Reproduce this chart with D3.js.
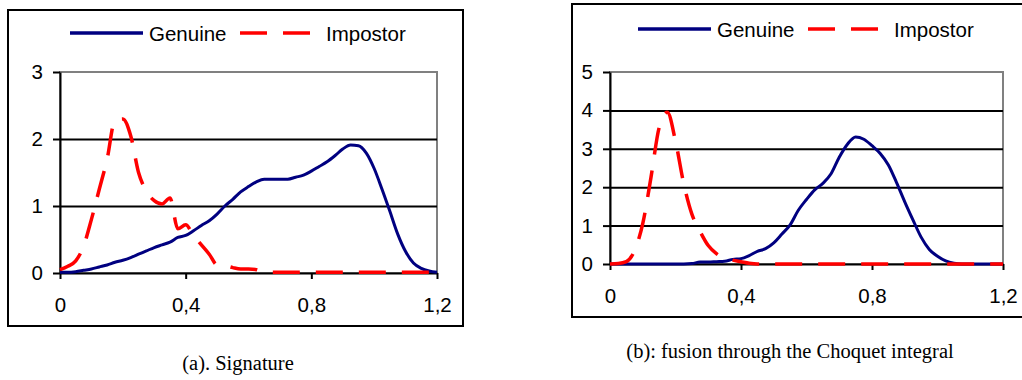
<!DOCTYPE html>
<html>
<head>
<meta charset="utf-8">
<script src="https://cdn.jsdelivr.net/npm/d3@7"></script>
<style>
  body { margin: 0; background: #fff; }
  svg { display: block; }
</style>
</head>
<body>
<div id="chart"></div>
<script>
// x grid shared by all series (score)
const scores = [
  0, 0.025, 0.05, 0.075, 0.1, 0.125, 0.15, 0.175, 0.2, 0.225, 0.25, 0.275,
  0.3, 0.325, 0.35, 0.375, 0.4, 0.425, 0.45, 0.475, 0.5, 0.525, 0.55, 0.575,
  0.6, 0.625, 0.65, 0.675, 0.7, 0.725, 0.75, 0.775, 0.8, 0.825, 0.85, 0.875,
  0.9, 0.925, 0.95, 0.975, 1.0, 1.025, 1.05, 1.075, 1.1, 1.125, 1.15, 1.175, 1.2,
];

// (a) Signature
const sigGenuine = [
  0.01, 0.01, 0.02, 0.04, 0.06, 0.09, 0.12, 0.16, 0.19, 0.23, 0.28, 0.33,
  0.38, 0.42, 0.46, 0.53, 0.56, 0.63, 0.71, 0.78, 0.88, 1.0, 1.1, 1.21,
  1.29, 1.36, 1.4, 1.4, 1.4, 1.4, 1.43, 1.46, 1.52, 1.59, 1.66, 1.75,
  1.85, 1.91, 1.9, 1.79, 1.56, 1.25, 0.92, 0.58, 0.32, 0.15, 0.07, 0.03, 0.01,
];
const sigImpostor = [
  0.05, 0.1, 0.18, 0.4, 0.8, 1.25, 1.7, 2.28, 2.3, 2.05, 1.5, 1.22,
  1.08, 1.03, 1.12, 0.66, 0.72, 0.56, 0.42, 0.28, 0.12, 0.11, 0.08, 0.06,
  0.06, 0.05, 0.01, 0.01, 0.01, 0.01, 0.01, 0.01, 0.01, 0.01, 0.01, 0.01,
  0.01, 0.01, 0.01, 0.01, 0.01, 0.01, 0.01, 0.01, 0.01, 0.01, 0.01, 0.01, 0.01,
];

// (b) Choquet integral fusion
const fusGenuine = [
  0, 0, 0, 0, 0, 0, 0, 0, 0, 0, 0.01, 0.05,
  0.05, 0.06, 0.07, 0.12, 0.14, 0.22, 0.33, 0.4, 0.55, 0.78, 1.02, 1.4,
  1.68, 1.93, 2.1, 2.35, 2.78, 3.12, 3.31, 3.25, 3.08, 2.88, 2.58, 2.12,
  1.62, 1.15, 0.7, 0.38, 0.2, 0.08, 0.02, 0, 0, 0, 0, 0, 0,
];
const fusImpostor = [
  0, 0.01, 0.06, 0.35, 1.05, 2.25, 3.55, 3.95, 3.2, 2.1, 1.3, 0.85,
  0.48, 0.27, 0.15, 0.1, 0.06, 0.02, 0, 0, 0, 0, 0, 0,
  0, 0, 0, 0, 0, 0, 0, 0, 0, 0, 0, 0,
  0, 0, 0, 0, 0, 0, 0, 0, 0, 0, 0, 0, 0,
];

// tick labels
const xTicks = [0, 0.4, 0.8, 1.2];
const xTickLabels = ["0", "0,4", "0,8", "1,2"];
const seriesNames = ["Genuine", "Impostor"];
const captions = ["(a). Signature", "(b): fusion through the Choquet integral"];

const W = 1022, H = 380;
const svg = d3.select("#chart").append("svg")
  .attr("width", W)
  .attr("height", H);

const panels = [
  {
    box: { x: 8, y: 10, w: 455, h: 316 },
    plot: { left: 60, right: 437, top: 72, bottom: 273 },
    yMax: 3,
    genuine: sigGenuine,
    impostor: sigImpostor,
    legend: { x: 70, y: 33 },
    caption: { x: 238, y: 370, text: captions[0] },
  },
  {
    box: { x: 572, y: 4, w: 460, h: 313 },
    plot: { left: 610, right: 1003, top: 72, bottom: 264 },
    yMax: 5,
    genuine: fusGenuine,
    impostor: fusImpostor,
    legend: { x: 638, y: 29 },
    caption: { x: 790, y: 358, text: captions[1] },
  },
];

const FONT = "'Liberation Sans', Arial, sans-serif";
const NAVY = "#000080";
const RED = "#ff0000";
const DASH = "27,16";

panels.forEach(drawPanel);

function drawPanel(p) {
  const g = svg.append("g");

  // outer chart frame
  g.append("rect")
    .attr("x", p.box.x)
    .attr("y", p.box.y)
    .attr("width", p.box.w)
    .attr("height", p.box.h)
    .attr("fill", "#fff")
    .attr("stroke", "#000")
    .attr("stroke-width", 2);

  const x = d3.scaleLinear().domain([0, 1.2]).range([p.plot.left, p.plot.right]);
  const y = d3.scaleLinear().domain([0, p.yMax]).range([p.plot.bottom, p.plot.top]);
  const yTicks = d3.range(0, p.yMax + 1);

  // plot area border (grey top / right)
  g.append("rect")
    .attr("x", p.plot.left)
    .attr("y", p.plot.top)
    .attr("width", p.plot.right - p.plot.left)
    .attr("height", p.plot.bottom - p.plot.top)
    .attr("fill", "none")
    .attr("stroke", "#808080")
    .attr("stroke-width", 2);

  // horizontal gridlines
  g.append("g")
    .attr("transform", `translate(${p.plot.left},0)`)
    .call(d3.axisLeft(y).tickValues(yTicks.slice(1, -1))
      .tickSize(-(p.plot.right - p.plot.left)).tickFormat(""))
    .call((s) => s.select(".domain").remove())
    .selectAll("line")
    .attr("stroke", "#000")
    .attr("stroke-width", 2);

  // y axis
  g.append("g")
    .attr("transform", `translate(${p.plot.left},0)`)
    .call(d3.axisLeft(y).tickValues(yTicks).tickFormat(d3.format("d"))
      .tickSize(7).tickSizeOuter(0).tickPadding(10))
    .call((s) => s.select(".domain").attr("stroke-width", 2))
    .call((s) => s.selectAll("line").attr("stroke-width", 2))
    .selectAll("text")
    .attr("font-family", FONT)
    .attr("font-size", "20.5px")
    .attr("fill", "#000");

  // x axis
  g.append("g")
    .attr("transform", `translate(0,${p.plot.bottom})`)
    .call(d3.axisBottom(x).tickValues(xTicks).tickSize(6).tickSizeOuter(0).tickPadding(18)
      .tickFormat((d, i) => xTickLabels[i]))
    .call((s) => s.select(".domain").attr("stroke-width", 2))
    .call((s) => s.selectAll("line").attr("stroke-width", 2))
    .selectAll("text")
    .attr("font-family", FONT)
    .attr("font-size", "20.5px")
    .attr("fill", "#000");

  const line = d3.line()
    .x((d, i) => x(scores[i]))
    .y((d) => y(d))
    .curve(d3.curveMonotoneX);

  // genuine curve
  g.append("path")
    .datum(p.genuine)
    .attr("d", line)
    .attr("fill", "none")
    .attr("stroke", NAVY)
    .attr("stroke-width", 3);

  // impostor curve (dashed, drawn on top)
  g.append("path")
    .datum(p.impostor)
    .attr("d", line)
    .attr("fill", "none")
    .attr("stroke", RED)
    .attr("stroke-width", 3.5)
    .attr("stroke-dasharray", DASH);

  // legend
  const lg = g.append("g").attr("transform", `translate(${p.legend.x},${p.legend.y})`);
  lg.append("line")
    .attr("x1", 0).attr("x2", 73)
    .attr("stroke", NAVY)
    .attr("stroke-width", 3.5);
  lg.append("text")
    .attr("x", 79).attr("y", 7.5)
    .attr("font-family", FONT)
    .attr("font-size", "20.5px")
    .text(seriesNames[0]);
  lg.append("line")
    .attr("x1", 170).attr("x2", 241)
    .attr("stroke", RED)
    .attr("stroke-width", 3.5)
    .attr("stroke-dasharray", DASH);
  lg.append("text")
    .attr("x", 256).attr("y", 7.5)
    .attr("font-family", FONT)
    .attr("font-size", "20.5px")
    .text(seriesNames[1]);

  // caption under the chart
  svg.append("text")
    .attr("x", p.caption.x)
    .attr("y", p.caption.y)
    .attr("text-anchor", "middle")
    .attr("font-family", "'Liberation Serif', 'Times New Roman', serif")
    .attr("font-size", "20.5px")
    .text(p.caption.text);
}
</script>
</body>
</html>
